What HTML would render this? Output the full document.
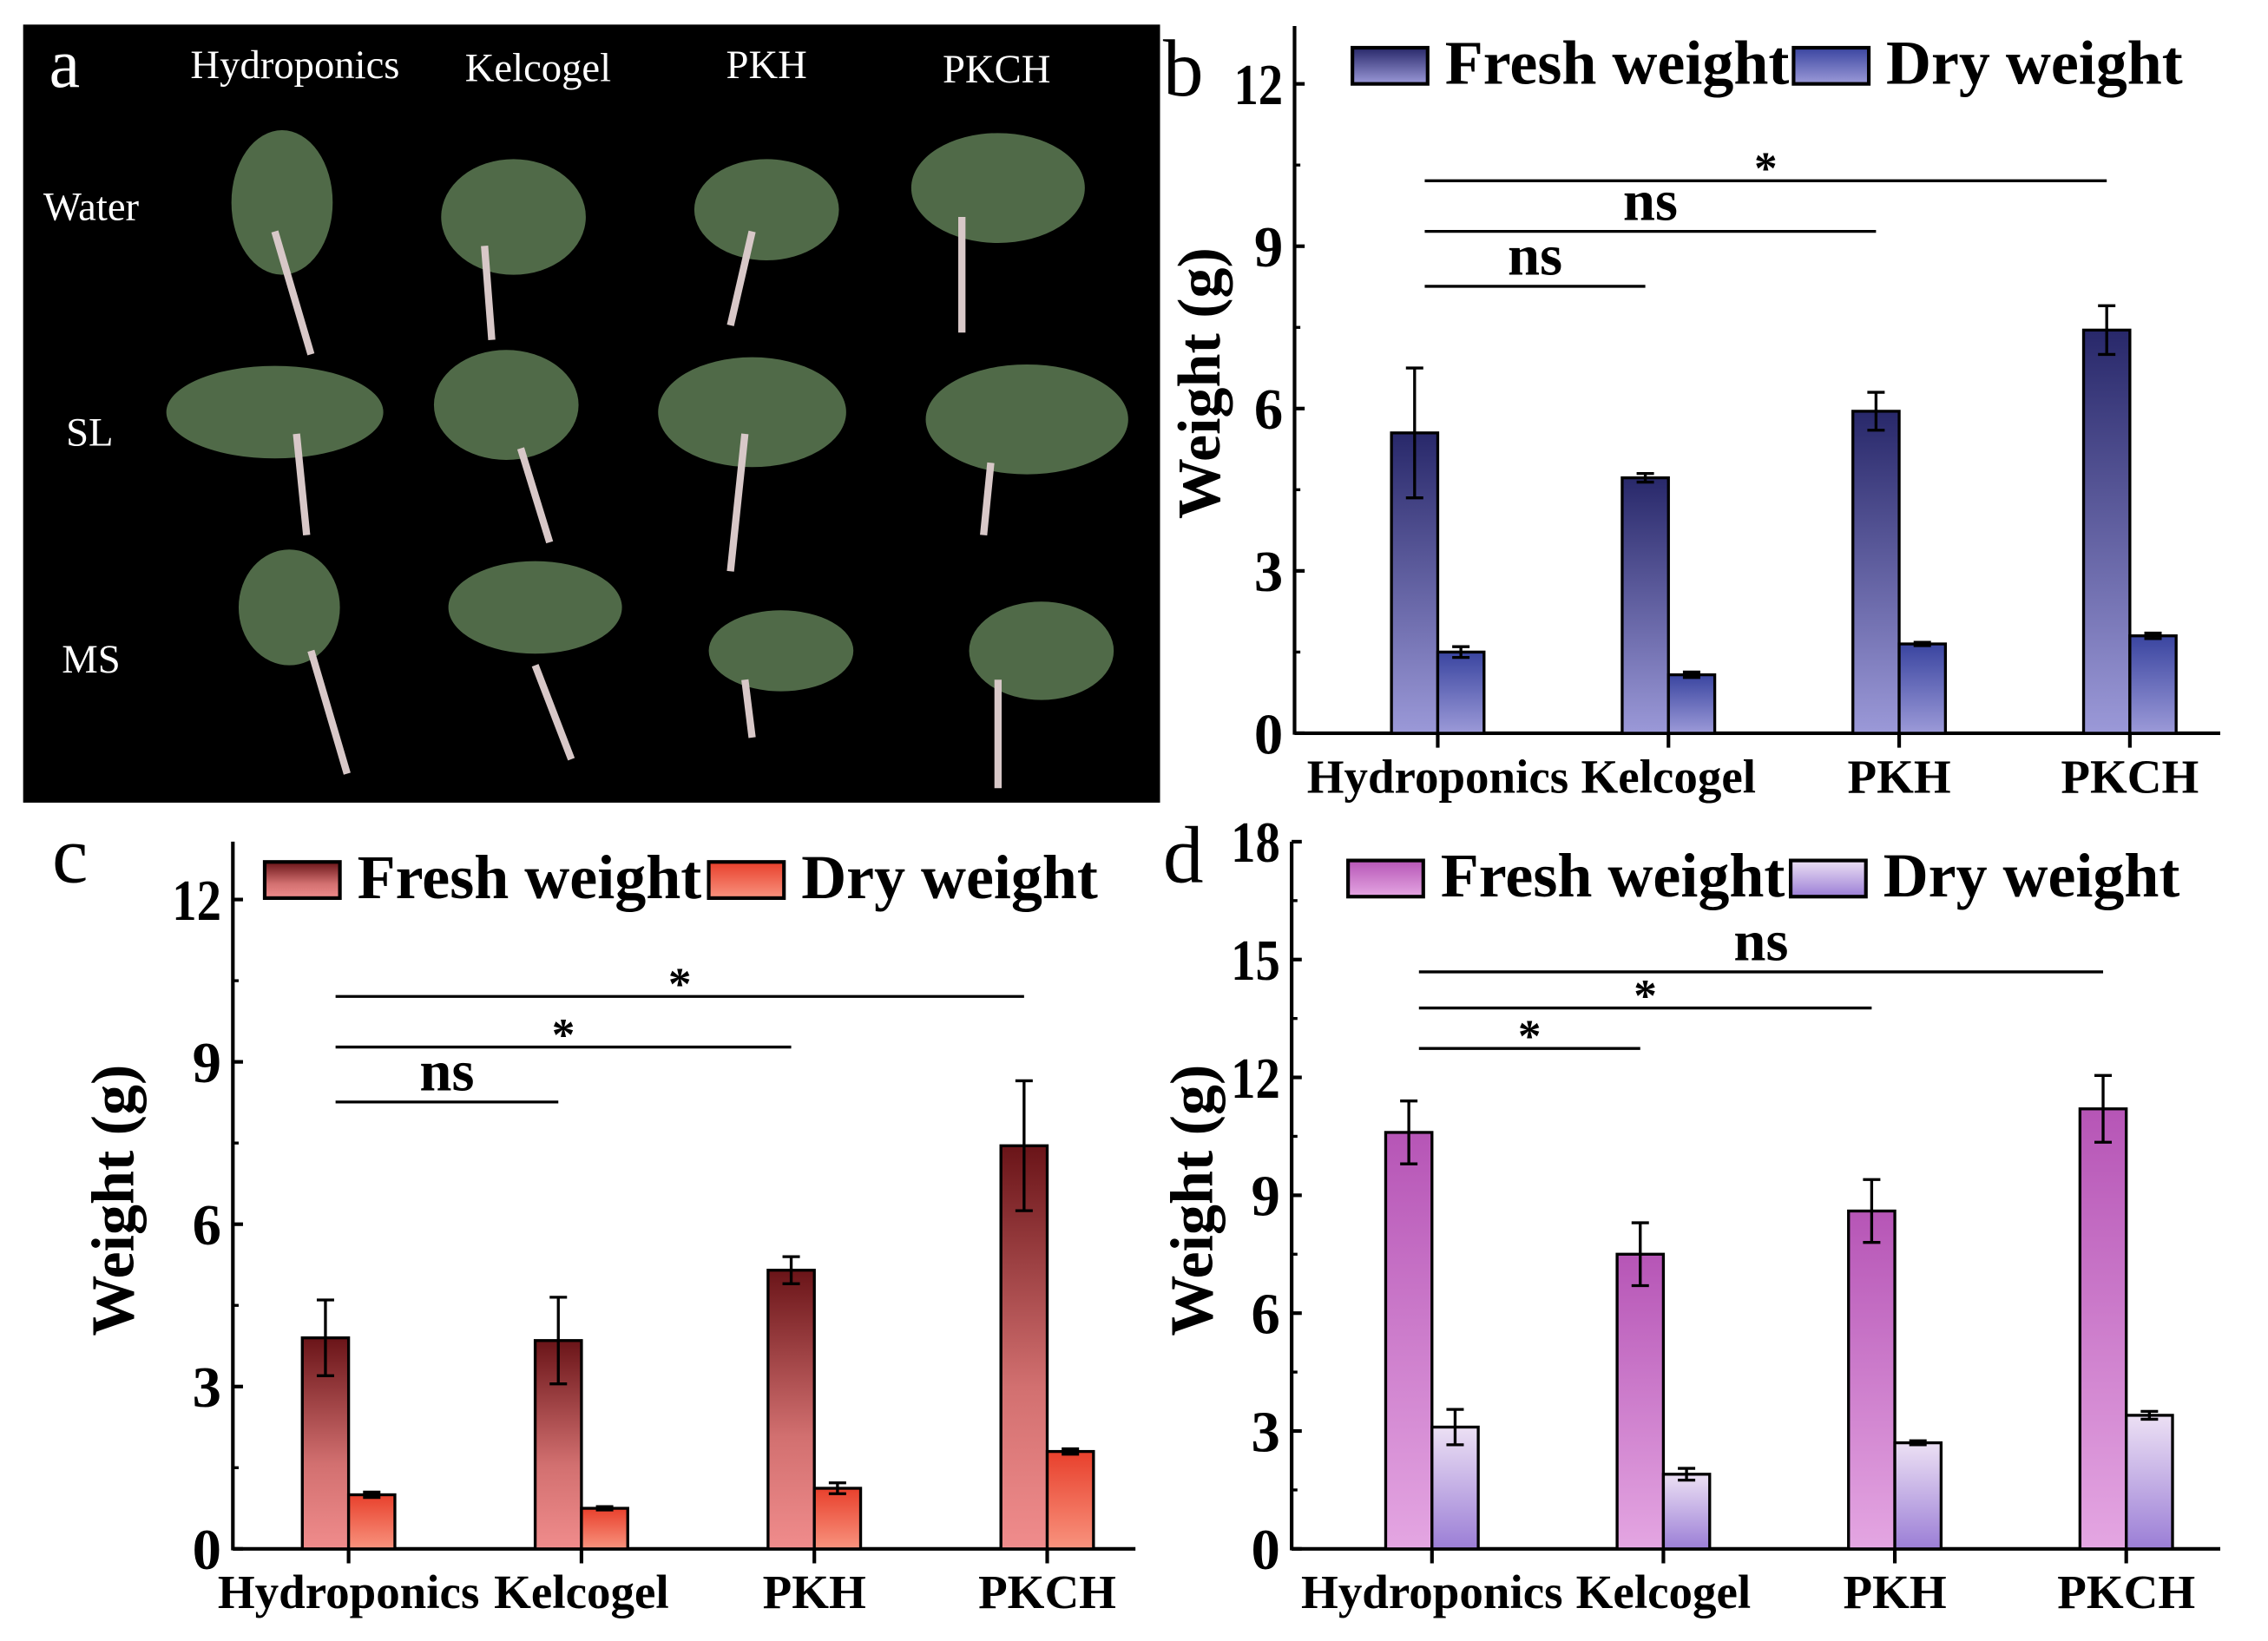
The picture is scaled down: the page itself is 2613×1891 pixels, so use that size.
<!DOCTYPE html>
<html><head><meta charset="utf-8">
<style>
html,body{margin:0;padding:0;background:#fff;}
svg{display:block;}
text{font-family:"Liberation Serif",serif;}
</style></head>
<body>
<svg id="fig" width="2613" height="1891" viewBox="0 0 1568 1134.7" preserveAspectRatio="none" xmlns="http://www.w3.org/2000/svg">
<defs>
<linearGradient id="bF" x1="0" y1="0" x2="0" y2="1"><stop offset="0" stop-color="#28286a"/><stop offset="1" stop-color="#9b99d8"/></linearGradient>
<linearGradient id="bD" x1="0" y1="0" x2="0" y2="1"><stop offset="0" stop-color="#3a45a0"/><stop offset="1" stop-color="#9c9ad8"/></linearGradient>
<linearGradient id="cF" x1="0" y1="0" x2="0" y2="1"><stop offset="0" stop-color="#6a1418"/><stop offset="0.6" stop-color="#d27070"/><stop offset="1" stop-color="#f08c8c"/></linearGradient>
<linearGradient id="cD" x1="0" y1="0" x2="0" y2="1"><stop offset="0" stop-color="#e8402c"/><stop offset="1" stop-color="#f8937e"/></linearGradient>
<linearGradient id="dF" x1="0" y1="0" x2="0" y2="1"><stop offset="0" stop-color="#b655b6"/><stop offset="1" stop-color="#e4a6e2"/></linearGradient>
<linearGradient id="dD" x1="0" y1="0" x2="0" y2="1"><stop offset="0" stop-color="#ece0f4"/><stop offset="1" stop-color="#9b7ed6"/></linearGradient>
</defs>
<g id="photo">
<rect x="16" y="17" width="786" height="538" fill="#000"/>
<g fill="#5e7d55" opacity="0.85">
<ellipse cx="195" cy="140" rx="35" ry="50"/><ellipse cx="355" cy="150" rx="50" ry="40"/><ellipse cx="530" cy="145" rx="50" ry="35"/><ellipse cx="690" cy="130" rx="60" ry="38"/>
<ellipse cx="190" cy="285" rx="75" ry="32"/><ellipse cx="350" cy="280" rx="50" ry="38"/><ellipse cx="520" cy="285" rx="65" ry="38"/><ellipse cx="710" cy="290" rx="70" ry="38"/>
<ellipse cx="200" cy="420" rx="35" ry="40"/><ellipse cx="370" cy="420" rx="60" ry="32"/><ellipse cx="540" cy="450" rx="50" ry="28"/><ellipse cx="720" cy="450" rx="50" ry="34"/>
</g>
<g stroke="#d8c8c8" stroke-width="5" fill="none">
<path d="M190 160 L215 245"/><path d="M335 170 L340 235"/><path d="M520 160 L505 225"/><path d="M665 150 L665 230"/>
<path d="M205 300 L212 370"/><path d="M360 310 L380 375"/><path d="M515 300 L505 395"/><path d="M685 320 L680 370"/>
<path d="M215 450 L240 535"/><path d="M370 460 L395 525"/><path d="M515 470 L520 510"/><path d="M690 470 L690 545"/>
</g>
<text x="34" y="60" font-size="48" fill="#fff">a</text>
<text x="204" y="54" font-size="28" fill="#fff" text-anchor="middle">Hydroponics</text>
<text x="372" y="56" font-size="28" fill="#fff" text-anchor="middle">Kelcogel</text>
<text x="530" y="54" font-size="28" fill="#fff" text-anchor="middle">PKH</text>
<text x="689" y="57" font-size="28" fill="#fff" text-anchor="middle">PKCH</text>
<text x="63" y="152" font-size="28" fill="#fff" text-anchor="middle">Water</text>
<text x="62" y="308" font-size="28" fill="#fff" text-anchor="middle">SL</text>
<text x="63" y="465" font-size="28" fill="#fff" text-anchor="middle">MS</text>
</g>
</svg>
<script>
const categories = ["Hydroponics","Kelcogel","PKH","PKCH"];
const bFresh = [5.55, 4.72, 5.95, 7.45];
const bFreshErr = [1.2, 0.08, 0.35, 0.45];
const bDry = [1.5, 1.08, 1.65, 1.8];
const bDryErr = [0.1, 0.05, 0.03, 0.05];
const cFresh = [3.9, 3.85, 5.15, 7.45];
const cFreshErr = [0.7, 0.8, 0.25, 1.2];
const cDry = [1.0, 0.75, 1.12, 1.8];
const cDryErr = [0.05, 0.03, 0.1, 0.05];
const dFresh = [10.6, 7.5, 8.6, 11.2];
const dFreshErr = [0.8, 0.8, 0.8, 0.85];
const dDry = [3.1, 1.9, 2.7, 3.4];
const dDryErr = [0.45, 0.15, 0.05, 0.1];
const ticks12 = [0, 3, 6, 9, 12];
const ticks18 = [0, 3, 6, 9, 12, 15, 18];
const bSig = [["*",0,3],["ns",0,2],["ns",0,1]];
const cSig = [["*",0,3],["*",0,2],["ns",0,1]];
const dSig = [["ns",0,3],["*",0,2],["*",0,1]];

const NS = "http://www.w3.org/2000/svg";
const svg = document.getElementById("fig");
function mk(tag, attrs, parent){
  const e = document.createElementNS(NS, tag);
  for (const k in attrs) e.setAttribute(k, attrs[k]);
  (parent||svg).appendChild(e);
  return e;
}
function panel(o){
  const g = mk("g", {});
  
  
  const y = v => o.y0 - (v / o.max) * (o.y0 - o.yTop);
  const xt = i => o.x1 + i * o.step;
  const bw = 32;
  const ya = mk("line", {x1:o.ax, y1:o.y0+1, x2:o.ax, y2:o.axTop, stroke:"#000","stroke-width":2.5}, g);
  
  
  const xa = mk("line", {x1:o.ax, y1:o.y0, x2:o.xEnd, y2:o.y0, stroke:"#000","stroke-width":2.5}, g);
  
  
  o.ticks.forEach((t, k) => {
    mk("line", {x1:o.ax, y1:y(t), x2:o.ax+7, y2:y(t), stroke:"#000","stroke-width":2.5}, g);
    if (k < o.ticks.length-1) {
      const m = (t + o.ticks[k+1]) / 2;
      mk("line", {x1:o.ax, y1:y(m), x2:o.ax+4, y2:y(m), stroke:"#000","stroke-width":2}, g);
    }
    const s = String(t);
    const attrs = {x:o.ax-8, y:y(t)+14, "font-size":40, "font-weight":"bold", "text-anchor":"end"};
    if (s.length > 1) { attrs.textLength = 34; attrs.lengthAdjust = "spacingAndGlyphs"; }
    const tl = mk("text", attrs, g);
    tl.textContent = s;
    
    
  });
  categories.forEach((c, i) => {
    const x = xt(i);
    mk("line", {x1:x, y1:o.y0, x2:x, y2:o.y0+10, stroke:"#000","stroke-width":2.5}, g);
    const cl = mk("text", {x:x, y:o.y0+41, "font-size":33, "font-weight":"bold", "text-anchor":"middle"}, g);
    cl.textContent = c;
    
    
    [[o.fresh, o.fErr, -bw, o.fg, 'fresh'], [o.dry, o.dErr, 0, o.dg, 'dry']].forEach(s => {
      const v = s[0][i], e = s[1][i], bx = x + s[2];
      const r = mk("rect", {x:bx, y:y(v), width:bw, height:o.y0-y(v), fill:"url(#"+s[3]+")", stroke:"#000","stroke-width":2}, g);
      
      
      const cx = bx + bw/2;
      mk("line", {x1:cx, y1:y(v+e), x2:cx, y2:y(v-e), stroke:"#000","stroke-width":2}, g);
      mk("line", {x1:cx-6, y1:y(v+e), x2:cx+6, y2:y(v+e), stroke:"#000","stroke-width":2}, g);
      mk("line", {x1:cx-6, y1:y(v-e), x2:cx+6, y2:y(v-e), stroke:"#000","stroke-width":2}, g);
    });
  });
  o.sig.forEach((s, k) => {
    const ly = o.sigY[k];
    const x1 = xt(s[1]) - 9, x2 = xt(s[2]) - 16;
    const l = mk("line", {x1:x1, y1:ly, x2:x2, y2:ly, stroke:"#000","stroke-width":2}, g);
    
    
    const t = mk("text", {x:(x1+x2)/2, y: s[0]==="*" ? ly+2 : ly-8, "font-size": s[0]==="*" ? 32 : 40, "font-weight":"bold", "text-anchor":"middle"}, g);
    t.textContent = s[0];
    
    
  });
  [[o.legX[0], o.fg, "Fresh weight", 238], [o.legX[1], o.dg, "Dry weight", 205]].forEach(L => {
    const r = mk("rect", {x:L[0], y:o.legY, width:52, height:25, fill:"url(#"+L[1]+")", stroke:"#000","stroke-width":2.5}, g);
    
    
    const t = mk("text", {x:L[0]+64, y:o.legY+25, "font-size":43, "font-weight":"bold", textLength:L[3], lengthAdjust:"spacingAndGlyphs"}, g);
    t.textContent = L[2];
    
    
  });
  const tt = mk("text", {x:0, y:0, "font-size":42, "font-weight":"bold", "text-anchor":"middle", transform:"translate("+(o.titleX)+","+(o.titleY)+") rotate(-90)"}, g);
  tt.textContent = "Weight (g)";
  
  
  const pl = mk("text", {x:o.lab[0], y:o.lab[1], "font-size":56}, g);
  pl.textContent = o.id;
  
  
}
panel({id:"b", ax:895, axTop:18, y0:507, yTop:58, max:12, xEnd:1535, x1:994, step:159.5, ticks:ticks12,
  fresh:bFresh, fErr:bFreshErr, dry:bDry, dErr:bDryErr, fg:"bF", dg:"bD",
  sig:bSig, sigY:[125,160,198], legX:[935,1240], legY:33, titleX:843, titleY:265, lab:[804,66]});
panel({id:"c", ax:161, axTop:582, y0:1071, yTop:622, max:12, xEnd:785, x1:241, step:161, ticks:ticks12,
  fresh:cFresh, fErr:cFreshErr, dry:cDry, dErr:cDryErr, fg:"cF", dg:"cD",
  sig:cSig, sigY:[689,724,762], legX:[183,490], legY:596, titleX:92, titleY:830, lab:[36,610]});
panel({id:"d", ax:893, axTop:582, y0:1071, yTop:582, max:18, xEnd:1535, x1:990, step:160, ticks:ticks18,
  fresh:dFresh, fErr:dFreshErr, dry:dDry, dErr:dDryErr, fg:"dF", dg:"dD",
  sig:dSig, sigY:[672,697,725], legX:[932,1238], legY:595, titleX:838, titleY:830, lab:[804,610]});
</script>
</body></html>
